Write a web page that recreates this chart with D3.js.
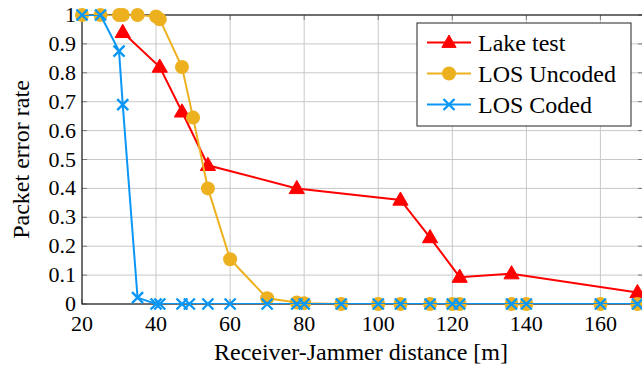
<!DOCTYPE html>
<html>
<head>
<meta charset="utf-8">
<script src="https://cdn.jsdelivr.net/npm/d3@7"></script>
<style>
  body { margin: 0; background: #fff; }
</style>
</head>
<body>
<svg width="642" height="366"></svg>
<script>
// distances [m] and packet error rates
const lakeX = [31, 41, 47, 54, 78, 106, 114, 122, 136, 170];
const lakeY = [0.94, 0.82, 0.665, 0.48, 0.40, 0.36, 0.23, 0.093, 0.105, 0.04];

const uncodedX = [20, 25, 30, 31, 35, 40, 41, 47, 50, 54, 60, 70, 78, 80, 90, 100, 106, 114, 120, 122, 136, 140, 160, 170];
const uncodedY = [1, 1, 1, 1, 1, 0.995, 0.985, 0.82, 0.645, 0.40, 0.155, 0.02, 0.005, 0.003, 0, 0, 0, 0, 0, 0, 0, 0, 0, 0];

const codedX = [20, 25, 30, 31, 35, 40, 41, 47, 49, 54, 60, 70, 78, 80, 90, 100, 106, 114, 120, 122, 136, 140, 160, 170];
const codedY = [1, 1, 0.875, 0.69, 0.022, 0, 0, 0, 0, 0, 0, 0, 0, 0, 0, 0, 0, 0, 0, 0, 0, 0, 0, 0];

const xTicks = [20, 40, 60, 80, 100, 120, 140, 160];
const yTicks = [0, 0.1, 0.2, 0.3, 0.4, 0.5, 0.6, 0.7, 0.8, 0.9, 1];
const seriesNames = ["Lake test", "LOS Uncoded", "LOS Coded"];

const pL = 82, pR = 643, pT = 15, pB = 304;
const x = d3.scaleLinear().domain([20, 171.5]).range([pL, pR]);
const y = d3.scaleLinear().domain([0, 1]).range([pB, pT]);

const svg = d3.select("svg");
const serif = "Liberation Serif";

svg.append("clipPath").attr("id", "plot")
  .append("rect").attr("x", pL).attr("y", pT).attr("width", pR - pL).attr("height", pB - pT);

// grid
svg.append("g").selectAll("line").data(xTicks).join("line")
  .attr("x1", d => x(d)).attr("x2", d => x(d)).attr("y1", pT).attr("y2", pB)
  .attr("stroke", "#c8c8c8").attr("stroke-width", 1);
svg.append("g").selectAll("line").data(yTicks).join("line")
  .attr("x1", pL).attr("x2", pR).attr("y1", d => y(d)).attr("y2", d => y(d))
  .attr("stroke", "#c8c8c8").attr("stroke-width", 1);

// inner tick marks on all four sides
const tk = 5, tickCol = "#7a7a7a";
const ticks = svg.append("g").attr("stroke", tickCol).attr("stroke-width", 1);
ticks.selectAll(".tb").data(xTicks).join("line")
  .attr("x1", d => x(d)).attr("x2", d => x(d)).attr("y1", pB).attr("y2", pB - tk);
ticks.selectAll(".tt").data(xTicks).join("line")
  .attr("x1", d => x(d)).attr("x2", d => x(d)).attr("y1", pT).attr("y2", pT + tk);
ticks.selectAll(".tl").data(yTicks).join("line")
  .attr("x1", pL).attr("x2", pL + tk).attr("y1", d => y(d)).attr("y2", d => y(d));
ticks.selectAll(".tr").data(yTicks).join("line")
  .attr("x1", pR - tk).attr("x2", pR).attr("y1", d => y(d)).attr("y2", d => y(d));

// frame
svg.append("rect").attr("x", pL).attr("y", pT).attr("width", pR - pL).attr("height", pB - pT)
  .attr("fill", "none").attr("stroke", "#222").attr("stroke-width", 1.2);

// tick labels
svg.append("g").selectAll("text").data(xTicks).join("text")
  .attr("x", d => x(d)).attr("y", 331).attr("text-anchor", "middle")
  .attr("font-family", serif).attr("font-size", 22).text(d => d);
svg.append("g").selectAll("text").data(yTicks).join("text")
  .attr("x", pL - 6).attr("y", d => y(d) + 7).attr("text-anchor", "end")
  .attr("font-family", serif).attr("font-size", 22).text(d => d3.format("")(d));

// axis titles
svg.append("text").attr("x", 361).attr("y", 360).attr("text-anchor", "middle")
  .attr("font-family", serif).attr("font-size", 24).text("Receiver-Jammer distance [m]");
svg.append("text").attr("transform", "translate(29," + y(0.5) + ") rotate(-90)")
  .attr("text-anchor", "middle").attr("font-family", serif).attr("font-size", 24).text("Packet error rate");

const red = "#ff0000", orange = "#edb120", blue = "#0a97f5";
const line = d3.line().x(d => x(d[0])).y(d => y(d[1]));

function tri(g, cx, cy, s) {
  g.append("path").attr("d", `M${cx},${cy - s}L${cx + s * 0.95},${cy + s * 0.65}L${cx - s * 0.95},${cy + s * 0.65}Z`)
    .attr("fill", red).attr("stroke", red).attr("stroke-width", 1);
}
function circ(g, cx, cy, r) {
  g.append("circle").attr("cx", cx).attr("cy", cy).attr("r", r).attr("fill", orange);
}
function cross(g, cx, cy, s) {
  g.append("path").attr("d", `M${cx - s},${cy - s}L${cx + s},${cy + s}M${cx - s},${cy + s}L${cx + s},${cy - s}`)
    .attr("stroke", blue).attr("stroke-width", 2.4).attr("fill", "none");
}

// Lake test
const lake = d3.zip(lakeX, lakeY);
svg.append("path").datum(lake).attr("d", line).attr("fill", "none")
  .attr("stroke", red).attr("stroke-width", 2).attr("clip-path", "url(#plot)");
const gL = svg.append("g");
lake.forEach(d => tri(gL, x(d[0]), y(d[1]), 8));

// LOS Uncoded
const unc = d3.zip(uncodedX, uncodedY);
svg.append("path").datum(unc).attr("d", line).attr("fill", "none")
  .attr("stroke", orange).attr("stroke-width", 2).attr("clip-path", "url(#plot)");
const gU = svg.append("g");
unc.forEach(d => circ(gU, x(d[0]), y(d[1]), 7));

// LOS Coded
const cod = d3.zip(codedX, codedY);
svg.append("path").datum(cod).attr("d", line).attr("fill", "none")
  .attr("stroke", blue).attr("stroke-width", 2).attr("clip-path", "url(#plot)");
const gC = svg.append("g");
cod.forEach(d => cross(gC, x(d[0]), y(d[1]), 5.5));

// legend
const lg = svg.append("g");
lg.append("rect").attr("x", 417).attr("y", 23).attr("width", 214).attr("height", 103)
  .attr("fill", "#fff").attr("stroke", "#222").attr("stroke-width", 1);
const cols = [red, orange, blue];
seriesNames.forEach((name, i) => {
  const cy = 42.5 + i * 31;
  lg.append("line").attr("x1", 427).attr("x2", 471).attr("y1", cy).attr("y2", cy)
    .attr("stroke", cols[i]).attr("stroke-width", 2);
  if (i === 0) tri(lg, 449, cy, 7.5);
  if (i === 1) circ(lg, 449, cy, 7);
  if (i === 2) cross(lg, 449, cy, 5.5);
  lg.append("text").attr("x", 478).attr("y", cy + 8).attr("font-family", serif)
    .attr("font-size", 24).text(name);
});
</script>
</body>
</html>
